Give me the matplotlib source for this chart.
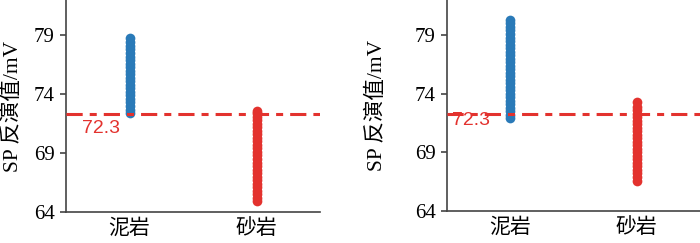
import matplotlib
matplotlib.use('Agg')
import matplotlib.pyplot as plt

plt.rcParams['font.family'] = ['Liberation Serif', 'Noto Sans CJK SC']

categories = ['泥岩', '砂岩']
threshold = 72.3

# left panel
left_mud = [72.4, 72.7, 73.0, 73.3, 73.6, 73.9, 74.2, 74.5, 74.8, 75.1, 75.4, 75.7,
            76.0, 76.3, 76.6, 76.9, 77.2, 77.5, 77.8, 78.1, 78.4, 78.8]
left_sand = [64.9, 65.2, 65.5, 65.8, 66.1, 66.4, 66.7, 67.0, 67.3, 67.6, 67.9, 68.2,
             68.5, 68.8, 69.1, 69.4, 69.7, 70.0, 70.3, 70.6, 70.9, 71.2, 71.5, 71.8,
             72.1, 72.4, 72.6]
# right panel
right_mud = [71.9, 72.2, 72.5, 72.8, 73.1, 73.4, 73.7, 74.0, 74.3, 74.6, 74.9, 75.2,
             75.5, 75.8, 76.1, 76.4, 76.7, 77.0, 77.3, 77.6, 77.9, 78.2, 78.5, 78.8,
             79.1, 79.4, 79.7, 80.0, 80.3]
right_sand = [66.6, 66.9, 67.2, 67.5, 67.8, 68.1, 68.4, 68.7, 69.0, 69.3, 69.6, 69.9,
              70.2, 70.5, 70.8, 71.1, 71.4, 71.7, 72.0, 72.3, 72.6, 72.9, 73.3]

blue = '#2a7ab8'
red = '#e3322e'

fig = plt.figure(figsize=(7, 2.43), dpi=100)
ax1 = fig.add_axes([66/700, 31/243, 254/700, 212/243])
ax2 = fig.add_axes([447/700, 32/243, 253/700, 211/243])

panels = [(ax1, left_mud, left_sand, (82, 128), -0.17),
          (ax2, right_mud, right_sand, (452, 120), -0.237)]
for ax, mud, sand, lab, ylx in panels:
    ax.plot([0] * len(mud), mud, 'o', color=blue, ms=7, mec='none', zorder=2)
    ax.plot([1] * len(sand), sand, 'o', color=red, ms=7, mec='none', zorder=2)
    ax.axhline(threshold, color=red, lw=2.2, dashes=(5.3, 2.3, 2.3, 2.3), zorder=3)
    ax.set_xlim(-0.5, 1.5)
    ax.set_ylim(64, 82)
    ax.set_yticks([64, 69, 74, 79])
    ax.set_xticks([0, 1])
    ax.set_xticklabels(categories, fontsize=15)
    ax.tick_params(axis='x', length=0, pad=5)
    ax.tick_params(axis='y', labelsize=15, length=4, color='#444444', width=1.2, pad=4)
    for s in ['top', 'right']:
        ax.spines[s].set_visible(False)
    for s in ['left', 'bottom']:
        ax.spines[s].set_color('#444444')
        ax.spines[s].set_linewidth(1.2)
    ax.set_ylabel('SP 反演值/mV', fontsize=15.5)
    ax.yaxis.set_label_coords(ylx, 0.5)
    fig.text(lab[0] / 700, 1 - lab[1] / 243, '72.3', color=red, fontsize=14,
             family='Liberation Sans', va='center', ha='left')

fig.savefig('out.png', dpi=100)
